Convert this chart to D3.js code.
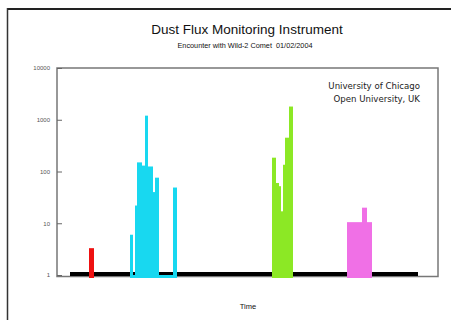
<!DOCTYPE html>
<html>
<head>
<meta charset="utf-8">
<script src="https://cdn.jsdelivr.net/npm/d3@7"></script>
<style>
  body { margin: 0; background: #fff; }
  svg { display: block; }
  text { white-space: pre; }
</style>
</head>
<body>
<svg width="451" height="320"></svg>
<script>
// flux counts per time bin (bin edges in s, counts)
const timeRange = [0, 381];
const yTicks = [1, 10, 100, 1000, 10000];
const baseRange = [13, 361];

const redEdges = [32, 37];
const redValues = [3.3];

const cyanEdges = [73, 76, 78, 80, 85, 88, 91, 96, 98, 102, 116, 120];
const cyanValues = [6, 1, 22, 150, 130, 1200, 125, 40, 76, 1, 49];

const greenEdges = [215, 219, 222, 224, 226, 228, 232, 236];
const greenValues = [185, 60, 52, 17, 135, 450, 1800];

const pinkEdges = [290, 305, 310, 315];
const pinkValues = [10.5, 20, 10.5];

const svg = d3.select("svg");
const width = +svg.attr("width");

const plotL = 57, plotR = 438, plotT = 68, plotB = 275;

const x = d3.scaleLinear().domain(timeRange).range([plotL, plotR]);
const y = d3.scaleLog().domain([1, 10000]).range([plotB, plotT]);

// outer frame
svg.append("line").attr("x1", 7).attr("x2", width).attr("y1", 9).attr("y2", 9)
    .attr("stroke", "#222").attr("stroke-width", 2);
svg.append("line").attr("x1", 7.5).attr("x2", 7.5).attr("y1", 8).attr("y2", 320)
    .attr("stroke", "#333").attr("stroke-width", 1.5);

// titles
svg.append("text").attr("x", 247).attr("y", 34).attr("text-anchor", "middle")
    .style("font-family", "Liberation Sans, Arial, sans-serif").style("font-size", "13.5px")
    .attr("fill", "#111").text("Dust Flux Monitoring Instrument");
svg.append("text").attr("x", 245).attr("y", 48).attr("text-anchor", "middle")
    .style("font-family", "Liberation Sans, Arial, sans-serif").style("font-size", "7.3px")
    .attr("fill", "#111").text("Encounter with Wild-2 Comet  01/02/2004");
svg.append("text").attr("x", 248).attr("y", 309).attr("text-anchor", "middle")
    .style("font-family", "Liberation Sans, Arial, sans-serif").style("font-size", "7.5px")
    .attr("fill", "#111").text("Time");

// plot box
svg.append("rect").attr("x", plotL).attr("y", plotT)
    .attr("width", plotR - plotL).attr("height", plotB + 1.5 - plotT)
    .attr("fill", "none").attr("stroke", "#777").attr("stroke-width", 1.5);

// y axis
const yAxis = svg.append("g").attr("transform", `translate(${plotL},0)`)
    .call(d3.axisLeft(y).tickValues(yTicks).tickFormat(d3.format("d"))
        .tickSize(-5).tickPadding(7));
yAxis.select(".domain").remove();
yAxis.selectAll(".tick line").attr("stroke", "#666");
yAxis.selectAll("text").attr("fill", "#555")
    .style("font-family", "Liberation Sans, Arial, sans-serif").style("font-size", "6px");

// zero-count baseline
svg.append("line")
    .attr("x1", x(baseRange[0])).attr("x2", x(baseRange[1]))
    .attr("y1", y(1) - 1).attr("y2", y(1) - 1)
    .attr("stroke", "#000").attr("stroke-width", 4);

function drawBars(edges, values, color) {
    const bins = values.map((v, i) => ({ t0: edges[i], t1: edges[i + 1], v }));
    svg.append("g").selectAll("rect")
        .data(bins)
        .join("rect")
        .attr("x", d => x(d.t0))
        .attr("width", d => x(d.t1) - x(d.t0))
        .attr("y", d => y(d.v))
        .attr("height", d => y(1) + 3 - y(d.v))
        .attr("fill", color);
}

drawBars(redEdges, redValues, "#ee1111");
drawBars(cyanEdges, cyanValues, "#18d8f0");
drawBars(greenEdges, greenValues, "#8ce825");
drawBars(pinkEdges, pinkValues, "#f070e6");

// institutions
svg.append("text").attr("x", 420).attr("y", 89).attr("text-anchor", "end")
    .style("font-family", "DejaVu Sans, Verdana, sans-serif").style("font-size", "8.6px")
    .attr("fill", "#222").text("University of Chicago");
svg.append("text").attr("x", 420).attr("y", 102).attr("text-anchor", "end")
    .style("font-family", "DejaVu Sans, Verdana, sans-serif").style("font-size", "8.6px")
    .attr("fill", "#222").text("Open University, UK");
</script>
</body>
</html>
